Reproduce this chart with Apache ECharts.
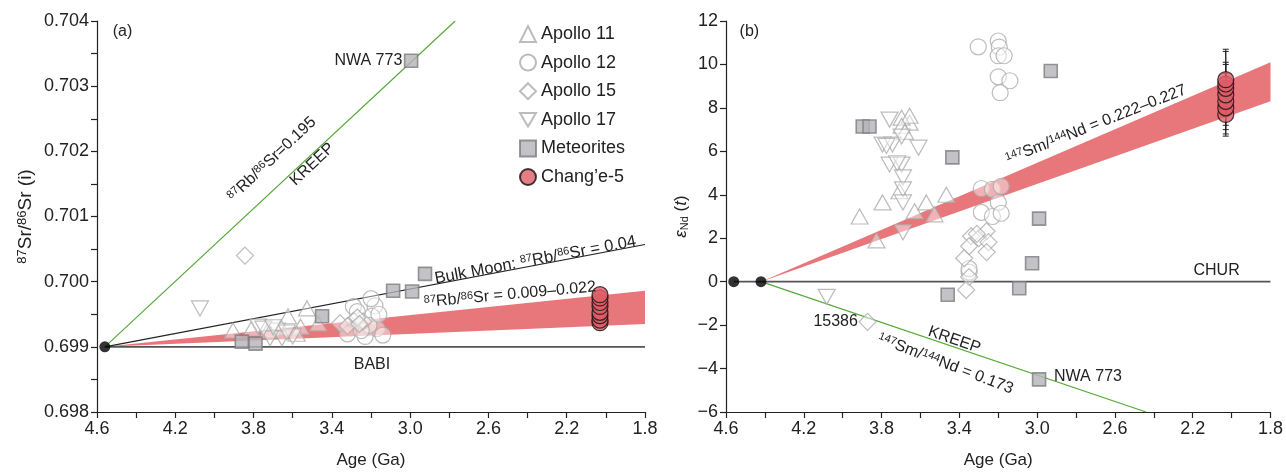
<!DOCTYPE html>
<html>
<head>
<meta charset="utf-8">
<script src="https://cdn.jsdelivr.net/npm/echarts@6/dist/echarts.min.js"></script>
<style>
  html, body { margin: 0; padding: 0; background: #fff; }
  #chart { width: 1286px; height: 474px; }
</style>
</head>
<body>
<div id="chart"></div>
<script>
// ---------- Panel (a): initial 87Sr/86Sr vs age ----------
const apollo11A = [[3.905,0.69925],[3.81,0.69928],[3.727,0.69925],[3.624,0.69947],[3.527,0.69959],[3.56,0.69931],[3.47,0.69936],[3.66,0.69930],[3.58,0.69920]];
const apollo12A = [[3.29,0.69962],[3.18,0.69963],[3.195,0.69947],[3.17,0.69928],[3.14,0.69918],[3.32,0.6992],[3.23,0.69916],[3.27,0.69954],[3.21,0.69933],[3.20,0.69974],[3.25,0.69925],[3.16,0.6995]];
const apollo15A = [[3.844,0.7004],[3.358,0.69936],[3.29,0.6994],[3.24,0.69939],[3.32,0.69932],[3.27,0.69945],[3.26,0.69935]];
const apollo17A = [[4.074,0.69959],[3.777,0.69931],[3.68,0.69925],[3.655,0.69913],[3.6,0.69916],[3.716,0.69913],[3.75,0.69928],[3.70,0.69930],[3.63,0.69922]];
const meteoritesA = [[2.995,0.70339],[2.924,0.70012],[3.087,0.69986],[2.99,0.69985],[3.45,0.69947],[3.86,0.69908],[3.79,0.69905]];
const ce5Age = 2.03;
const ce5SrA = [0.69937,0.69941,0.69948,0.69953,0.69962,0.69968,0.69975,0.6998];
const originA = [[4.56,0.699]];
const kreepLineA = [[4.56,0.699],[2.77,0.704]];
const bulkMoonLineA = [[4.56,0.699],[1.8,0.70057]];
const babiLineA = [[4.56,0.699],[1.8,0.699]];
// [age, lower, upper] for the 87Rb/86Sr = 0.009–0.022 growth wedge
const bandA = [[4.56,0.699,0.699],[1.8,0.69935,0.69986]];

// ---------- Panel (b): εNd(t) vs age ----------
const apollo11B = [[3.913,3.0],[3.795,3.65],[3.826,1.9],[3.708,4.16],[3.656,7.32],[3.697,7.55],[3.656,7.64],[3.697,7.18],[3.57,3.65],[3.63,3.24],[3.528,3.1],[3.467,4.0],[3.68,6.9]];
const apollo12B = [[3.303,10.81],[3.2,11.08],[3.195,10.8],[3.2,10.4],[3.17,10.4],[3.2,9.43],[3.14,9.25],[3.19,8.7],[3.287,4.29],[3.23,4.25],[3.185,4.39],[3.2,3.65],[3.287,3.19],[3.23,3.0],[3.185,3.15],[3.35,0.44],[3.35,0.6]];
const apollo15B = [[3.872,-1.85],[3.34,2.09],[3.3,2.0],[3.26,2.32],[3.25,1.82],[3.35,1.63],[3.26,1.36],[3.375,1.08],[3.35,0.21],[3.365,-0.38],[3.31,2.2]];
const apollo17B = [[3.759,7.46],[3.795,6.31],[3.744,6.31],[3.61,6.17],[3.759,5.39],[3.697,5.39],[3.69,4.8],[3.69,4.25],[3.69,3.65],[3.69,2.27],[4.082,-0.7],[3.697,6.68],[3.775,6.25],[3.72,5.45]];
const meteoritesB = [[3.897,7.14],[3.862,7.14],[3.436,5.72],[2.93,9.7],[2.99,2.9],[3.026,0.85],[3.092,-0.3],[3.46,-0.6],[2.99,-4.5]];
const ce5NdB = [7.7,8.0,8.3,8.6,8.9,9.1,9.3];
const ce5NdErr = [1.0,1.2,1.3,1.4,1.2,1.5,1.4];
const originB = [[4.56,0],[4.42,0]];
const churLineB = [[4.56,0],[1.8,0]];
const kreepLineB = [[4.42,0],[2.44,-6]];
const bandB = [[4.42,0,0],[1.8,8.3,10.1]];

// ---------- Axis tick values ----------
const ageMin = 1.8, ageMax = 4.6, ageStep = 0.2;
const srMin = 0.698, srMax = 0.704, srStep = 0.001;
const ndMin = -6, ndMax = 12, ndStep = 2;

const INK = '#222';
const FONT = '"Liberation Sans", Arial, sans-serif';
const HOLLOW = { color: 'rgba(255,255,255,0.55)', borderColor: '#ababab', borderWidth: 1.2 };
const MET = { color: '#b4b4b9', borderColor: '#7d7d80', borderWidth: 1.6 };
const CE5 = { color: '#e05c66', borderColor: '#111', borderWidth: 1.2 };
const BAND = '#e8777c';
const GREEN = '#56a93a';
const TRI_DOWN = 'path://M0,0 L20,0 L10,17 Z';

const supRich = {
  sup: { fontSize: 11, verticalAlign: 'top', lineHeight: 11, fontFamily: FONT, color: INK }
};

function xAxis(gi) {
  return {
    type: 'value', gridIndex: gi, min: ageMin, max: ageMax, interval: ageStep, inverse: true,
    name: 'Age (Ga)', nameLocation: 'middle', nameGap: 40,
    nameTextStyle: { fontSize: 17, color: INK, fontFamily: FONT },
    axisLine: { onZero: false, lineStyle: { color: INK, width: 1.2 } },
    axisTick: { length: 6, lineStyle: { color: INK, width: 1.2 } },
    axisLabel: {
      fontSize: 18, color: INK, fontFamily: FONT, margin: 8, showMinLabel: true, showMaxLabel: true,
      formatter: v => { const k = Math.round(v * 10); return ((46 - k) % 4 === 0) ? (k / 10).toFixed(1) : ''; }
    },
    splitLine: { show: false }
  };
}

function lineSeries(xi, data, color, width, z) {
  return {
    type: 'line', xAxisIndex: xi, yAxisIndex: xi, data: data, symbol: 'none', silent: true,
    lineStyle: { color: color, width: width }, z: z || 2, animation: false
  };
}

function bandSeries(xi, data) {
  return {
    type: 'custom', xAxisIndex: xi, yAxisIndex: xi, silent: true, z: 1, animation: false,
    data: data, encode: { x: 0, y: [1, 2] },
    renderItem: function (params, api) {
      if (params.dataIndex !== 0) return null;
      const pts = [];
      data.forEach(d => pts.push(api.coord([d[0], d[2]])));
      data.slice().reverse().forEach(d => pts.push(api.coord([d[0], d[1]])));
      return { type: 'polygon', shape: { points: pts }, style: { fill: BAND } };
    }
  };
}

function scatter(xi, name, data, symbol, size, style, extra) {
  return Object.assign({
    type: 'scatter', name: name, xAxisIndex: xi, yAxisIndex: xi, data: data,
    symbol: symbol, symbolSize: size, itemStyle: style, z: 3, animation: false
  }, extra || {});
}

const ce5PointsA = ce5SrA.map(v => [ce5Age, v]);
const ce5PointsB = ce5NdB.map(v => [ce5Age, v]);
const ce5ErrB = ce5NdB.map((v, i) => [ce5Age, v, ce5NdErr[i]]);

const option = {
  backgroundColor: '#fff',
  animation: false,
  textStyle: { fontFamily: FONT },
  grid: [
    { left: 97, top: 21, width: 548, height: 393 },
    { left: 726, top: 21, width: 546, height: 392 }
  ],
  legend: {
    orient: 'vertical', left: 514, top: 20, itemGap: 10.6, itemWidth: 16, itemHeight: 16,
    textStyle: { fontSize: 18, color: INK, fontFamily: FONT },
    data: ['Apollo 11', 'Apollo 12', 'Apollo 15', 'Apollo 17', 'Meteorites', 'Chang\u2019e-5']
  },
  xAxis: [xAxis(0), xAxis(1)],
  yAxis: [
    {
      type: 'value', gridIndex: 0, min: srMin, max: srMax, interval: srStep,
      name: '{sup|87}Sr/{sup|86}Sr (i)', nameLocation: 'middle', nameGap: 62, nameRotate: 90,
      nameTextStyle: {
        fontSize: 19, color: INK, fontFamily: FONT,
        rich: { sup: { fontSize: 13, verticalAlign: 'top', lineHeight: 12, fontFamily: FONT, color: INK } }
      },
      axisLine: { show: true, onZero: false, lineStyle: { color: INK, width: 1.2 } },
      axisTick: { show: true, length: 6, lineStyle: { color: INK, width: 1.2 } },
      minorTick: { show: true, splitNumber: 2, length: 6, lineStyle: { color: INK, width: 1.2 } },
      axisLabel: { fontSize: 18, color: INK, fontFamily: FONT, margin: 8, formatter: v => v.toFixed(3) },
      splitLine: { show: false }
    },
    {
      type: 'value', gridIndex: 1, min: ndMin, max: ndMax, interval: ndStep,
      name: '{e|\u03b5}{sub|Nd} ({t|t})', nameLocation: 'middle', nameGap: 36, nameRotate: 90,
      nameTextStyle: {
        fontSize: 17, color: INK, fontFamily: FONT,
        rich: {
          e: { fontSize: 17, fontStyle: 'italic', fontFamily: FONT, color: INK },
          sub: { fontSize: 11, verticalAlign: 'bottom', lineHeight: 11, fontFamily: FONT, color: INK },
          t: { fontSize: 17, fontStyle: 'italic', fontFamily: FONT, color: INK }
        }
      },
      axisLine: { show: true, onZero: false, lineStyle: { color: INK, width: 1.2 } },
      axisTick: { show: true, length: 6, lineStyle: { color: INK, width: 1.2 } },
      axisLabel: { fontSize: 18, color: INK, fontFamily: FONT, margin: 8, formatter: v => v < 0 ? '\u2212' + Math.abs(v) : String(v) },
      splitLine: { show: false }
    }
  ],
  series: [
    // panel (a)
    bandSeries(0, bandA),
    lineSeries(0, babiLineA, '#555', 1.6),
    lineSeries(0, bulkMoonLineA, INK, 1.2),
    lineSeries(0, kreepLineA, GREEN, 1.2),
    scatter(0, 'Apollo 11', apollo11A, 'triangle', [17, 15], HOLLOW),
    scatter(0, 'Apollo 12', apollo12A, 'circle', 16, HOLLOW),
    scatter(0, 'Apollo 15', apollo15A, 'diamond', [17, 17], HOLLOW),
    scatter(0, 'Apollo 17', apollo17A, TRI_DOWN, [17, 15], HOLLOW),
    scatter(0, 'Meteorites', meteoritesA, 'rect', 13, MET, { z: 4 }),
    scatter(0, 'Chang\u2019e-5', ce5PointsA, 'circle', 16, CE5, { z: 5 }),
    scatter(0, 'origin', originA, 'circle', 11, { color: '#000' }, { z: 6 }),
    // panel (b)
    bandSeries(1, bandB),
    lineSeries(1, churLineB, '#555', 1.6),
    lineSeries(1, kreepLineB, GREEN, 1.2),
    scatter(1, 'Apollo 11', apollo11B, 'triangle', [17, 15], HOLLOW),
    scatter(1, 'Apollo 12', apollo12B, 'circle', 16, HOLLOW),
    scatter(1, 'Apollo 15', apollo15B, 'diamond', [17, 17], HOLLOW),
    scatter(1, 'Apollo 17', apollo17B, TRI_DOWN, [17, 15], HOLLOW),
    scatter(1, 'Meteorites', meteoritesB, 'rect', 13, MET, { z: 4 }),
    {
      type: 'custom', xAxisIndex: 1, yAxisIndex: 1, silent: true, z: 4, animation: false,
      data: ce5ErrB, encode: { x: 0, y: 1 },
      renderItem: function (params, api) {
        const x = api.value(0), y = api.value(1), e = api.value(2);
        const top = api.coord([x, y + e]), bot = api.coord([x, y - e]);
        const w = 3;
        const st = { stroke: INK, lineWidth: 1 };
        return {
          type: 'group', children: [
            { type: 'line', shape: { x1: top[0], y1: top[1], x2: bot[0], y2: bot[1] }, style: st },
            { type: 'line', shape: { x1: top[0] - w, y1: top[1], x2: top[0] + w, y2: top[1] }, style: st },
            { type: 'line', shape: { x1: bot[0] - w, y1: bot[1], x2: bot[0] + w, y2: bot[1] }, style: st }
          ]
        };
      }
    },
    scatter(1, 'Chang\u2019e-5', ce5PointsB, 'circle', 16, CE5, { z: 5 }),
    scatter(1, 'origin', originB, 'circle', 11, { color: '#000' }, { z: 6 })
  ]
};

const chart = echarts.init(document.getElementById('chart'), null, { renderer: 'canvas' });
chart.setOption(option);

// ---------- Annotations placed in data coordinates ----------
const notes = [
  { g: 0, at: [4.52, 0.70383], text: '(a)', align: 'left' },
  { g: 0, at: [3.04, 0.70339], text: 'NWA 773', align: 'right' },
  { g: 0, at: [3.706, 0.70188], text: '{sup|87}Rb/{sup|86}Sr=0.195', rot: 43.3 },
  { g: 0, at: [3.50, 0.70180], text: 'KREEP', rot: 43.3 },
  { g: 0, at: [2.36, 0.70033], text: 'Bulk Moon: {sup|87}Rb/{sup|86}Sr = 0.04', rot: 10.6, size: 16.5 },
  { g: 0, at: [2.49, 0.69980], text: '{sup|87}Rb/{sup|86}Sr = 0.009\u20130.022', rot: 5.2 },
  { g: 0, at: [3.195, 0.69872], text: 'BABI' },
  { g: 1, at: [4.53, 11.5], text: '(b)', align: 'left' },
  { g: 1, at: [4.036, -1.85], text: '15386' },
  { g: 1, at: [3.426, -2.68], text: 'KREEP', rot: -19 },
  { g: 1, at: [3.472, -3.78], text: '{sup|147}Sm/{sup|144}Nd = 0.173', rot: -21 },
  { g: 1, at: [2.913, -4.38], text: 'NWA 773', align: 'left' },
  { g: 1, at: [2.077, 0.49], text: 'CHUR' },
  { g: 1, at: [2.697, 7.23], text: '{sup|147}Sm/{sup|144}Nd = 0.222\u20130.227', rot: 21.5 }
];

function placeNotes() {
  const elements = notes.map(n => {
    const p = chart.convertToPixel({ gridIndex: n.g }, n.at);
    return {
      type: 'text', x: p[0], y: p[1], rotation: (n.rot || 0) * Math.PI / 180, z: 10, silent: true,
      style: {
        text: n.text, rich: supRich, fontSize: n.size || 16, fontFamily: FONT, fill: INK,
        align: n.align || 'center', verticalAlign: 'middle'
      }
    };
  });
  chart.setOption({ graphic: elements });
}
placeNotes();
</script>
</body>
</html>
